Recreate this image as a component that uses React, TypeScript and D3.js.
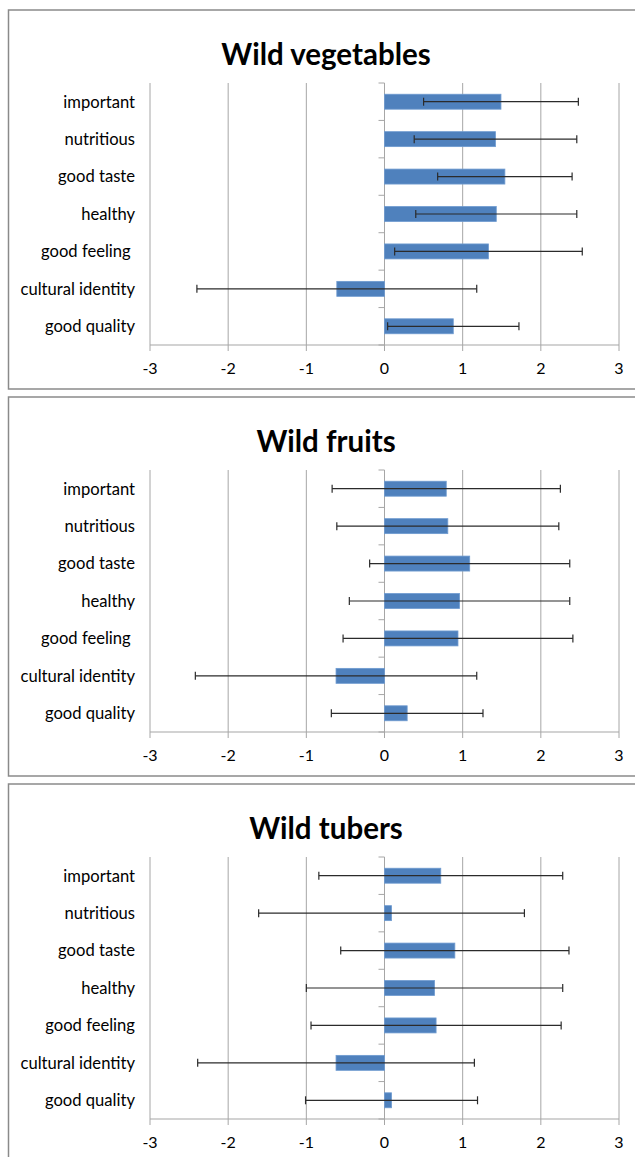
import { useEffect, useRef } from 'react';
import * as d3 from 'd3';

// category labels (the two upper charts carry a trailing space after "good feeling")
const categories = ['important', 'nutritious', 'good taste', 'healthy', 'good feeling ', 'cultural identity', 'good quality'];
const tuberCategories = ['important', 'nutritious', 'good taste', 'healthy', 'good feeling', 'cultural identity', 'good quality'];

const panelTitles = ['Wild vegetables', 'Wild fruits', 'Wild tubers'];

// mean scores and standard deviations (error bars = mean ± SD)
const vegMeans = [1.49, 1.42, 1.54, 1.43, 1.33, -0.61, 0.88];
const vegSD = [0.99, 1.04, 0.86, 1.03, 1.2, 1.79, 0.84];

const fruitMeans = [0.79, 0.81, 1.09, 0.96, 0.94, -0.62, 0.29];
const fruitSD = [1.46, 1.42, 1.28, 1.41, 1.47, 1.8, 0.97];

const tuberMeans = [0.72, 0.09, 0.9, 0.64, 0.66, -0.62, 0.09];
const tuberSD = [1.56, 1.7, 1.46, 1.64, 1.6, 1.77, 1.1];

const xTicks = [-3, -2, -1, 0, 1, 2, 3];

export default function App() {
  const svgRef = useRef<SVGSVGElement>(null);

  useEffect(() => {
    if (!svgRef.current) return;
    const svg = d3.select(svgRef.current);
    svg.selectAll('*').remove();

    const font = 'Lato, Carlito, Calibri, sans-serif';
    const barColor = '#4F81BD';
    const gridColor = '#a6a6a6';

    const panels = [
      { title: panelTitles[0], labels: categories, means: vegMeans, sd: vegSD },
      { title: panelTitles[1], labels: categories, means: fruitMeans, sd: fruitSD },
      { title: panelTitles[2], labels: tuberCategories, means: tuberMeans, sd: tuberSD },
    ];

    const pitch = 387;
    const x = d3.scaleLinear().domain([-3, 3]).range([150, 619]);

    panels.forEach((p, i) => {
      const top = 10 + i * pitch;
      const g = svg.append('g');

      // chart frame
      g.append('rect')
        .attr('x', 8.5)
        .attr('y', top)
        .attr('width', 636)
        .attr('height', 379)
        .attr('fill', '#fff')
        .attr('stroke', '#8a8a8a')
        .attr('stroke-width', 1.5);

      g.append('text')
        .attr('x', 326)
        .attr('y', top + 55)
        .attr('text-anchor', 'middle')
        .attr('font-family', font)
        .attr('font-size', '29.5px')
        .attr('font-weight', 700)
        .attr('fill', '#000')
        .text(p.title);

      const plotTop = top + 73;
      const plotBottom = top + 335;

      const y = d3.scaleBand<number>()
        .domain(d3.range(p.labels.length))
        .range([plotTop, plotBottom])
        .paddingInner(0.6)
        .paddingOuter(0.3);
      const step = y.step();

      // vertical gridlines
      g.selectAll('.grid')
        .data(xTicks.filter(t => t !== 0))
        .join('line')
        .attr('x1', d => x(d))
        .attr('x2', d => x(d))
        .attr('y1', plotTop)
        .attr('y2', plotBottom)
        .attr('stroke', gridColor)
        .attr('stroke-width', 1);

      // bottom axis line + ticks
      g.append('line')
        .attr('x1', x(-3))
        .attr('x2', x(3))
        .attr('y1', plotBottom)
        .attr('y2', plotBottom)
        .attr('stroke', gridColor)
        .attr('stroke-width', 1.2);

      g.selectAll('.xtick')
        .data(xTicks)
        .join('line')
        .attr('x1', d => x(d))
        .attr('x2', d => x(d))
        .attr('y1', plotBottom)
        .attr('y2', plotBottom + 6)
        .attr('stroke', gridColor);

      g.selectAll('.xlabel')
        .data(xTicks)
        .join('text')
        .attr('x', d => x(d))
        .attr('y', plotBottom + 29)
        .attr('text-anchor', 'middle')
        .attr('font-family', font)
        .attr('font-size', '16px')
        .attr('fill', '#000')
        .text(d => String(d));

      // category axis at zero with boundary ticks
      g.append('line')
        .attr('x1', x(0))
        .attr('x2', x(0))
        .attr('y1', plotTop)
        .attr('y2', plotBottom)
        .attr('stroke', gridColor);

      g.selectAll('.ytick')
        .data(d3.range(p.labels.length + 1))
        .join('line')
        .attr('x1', x(0) - 6)
        .attr('x2', x(0))
        .attr('y1', d => plotTop + d * step)
        .attr('y2', d => plotTop + d * step)
        .attr('stroke', gridColor);

      g.selectAll('.ylabel')
        .data(p.labels)
        .join('text')
        .attr('x', 135)
        .attr('y', (_, j) => (y(j) as number) + y.bandwidth() / 2)
        .attr('dy', '0.35em')
        .attr('text-anchor', 'end')
        .attr('font-family', font)
        .attr('font-size', '16.6px')
        .attr('fill', '#000')
        .style('white-space', 'pre')
        .text(d => d);

      // bars
      g.selectAll('.bar')
        .data(p.means)
        .join('rect')
        .attr('x', d => x(Math.min(0, d)))
        .attr('y', (_, j) => y(j) as number)
        .attr('width', d => Math.abs(x(d) - x(0)))
        .attr('height', y.bandwidth())
        .attr('fill', barColor)
        .attr('stroke', '#6f9bd0')
        .attr('stroke-width', 0.8);

      // error bars
      const cy = (j: number) => (y(j) as number) + y.bandwidth() / 2;
      p.means.forEach((m, j) => {
        const lo = x(m - p.sd[j]);
        const hi = x(m + p.sd[j]);
        const yy = cy(j);
        g.append('line')
          .attr('x1', lo).attr('x2', hi)
          .attr('y1', yy).attr('y2', yy)
          .attr('stroke', '#2b2b2b')
          .attr('stroke-width', 1.2);
        [lo, hi].forEach(xx => {
          g.append('line')
            .attr('x1', xx).attr('x2', xx)
            .attr('y1', yy - 4).attr('y2', yy + 4)
            .attr('stroke', '#2b2b2b')
            .attr('stroke-width', 1.2);
        });
      });
    });
  }, []);

  return (
    <svg
      ref={svgRef}
      width={635}
      height={1157}
      style={{ position: 'absolute', left: 0, top: 0, background: '#fff' }}
    />
  );
}
